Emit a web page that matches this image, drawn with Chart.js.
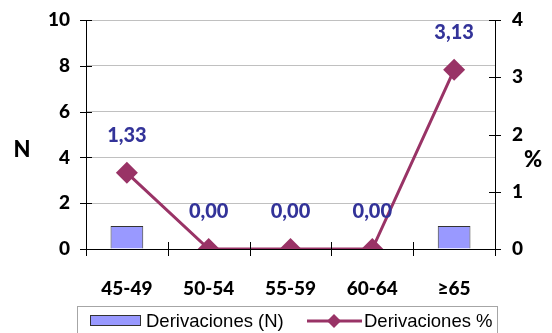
<!DOCTYPE html>
<html>
<head>
<meta charset="utf-8">
<script src="https://cdn.jsdelivr.net/npm/chart.js@4/dist/chart.umd.min.js"></script>
<style>
  html, body { margin: 0; padding: 0; background: #fff; }
  #wrap { width: 552px; height: 333px; }
</style>
</head>
<body>
<div id="wrap"><canvas id="chart" width="552" height="333"></canvas></div>
<script>
// datos
const grupos = ['45-49', '50-54', '55-59', '60-64', '≥65'];
const derivN = [1, 0, 0, 0, 1];
const derivPct = [1.33, 0, 0, 0, 3.13];
const ticksN = [0, 2, 4, 6, 8, 10];
const ticksPct = [0, 1, 2, 3, 4];

const colorLinea = '#993366';
const colorBarra = '#9999ff';
const colorEtiqueta = '#333399';
const fuenteEje = 'Lato, "Open Sans", sans-serif';

// marcas de eje que cruzan la linea, como en Excel
const marcasEje = {
  id: 'marcasEje',
  afterDraw(chart) {
    const ctx = chart.ctx;
    const a = chart.chartArea;
    ctx.save();
    ctx.strokeStyle = '#000';
    ctx.lineWidth = 1;
    ctx.beginPath();
    ['y', 'y1'].forEach(id => {
      const s = chart.scales[id];
      const x = id === 'y' ? a.left : a.right;
      s.ticks.forEach((t, i) => {
        const y = Math.round(s.getPixelForTick(i)) + 0.5;
        ctx.moveTo(x - 6, y); ctx.lineTo(x + 6, y);
      });
    });
    const n = grupos.length;
    for (let i = 0; i <= n; i++) {
      const x = Math.round(a.left + i * (a.right - a.left) / n) + 0.5;
      ctx.moveTo(x, a.bottom - 7); ctx.lineTo(x, a.bottom + 7);
    }
    ctx.stroke();

    // titulos de ejes
    ctx.fillStyle = '#000';
    ctx.font = '900 22px ' + fuenteEje;
    ctx.textAlign = 'center';
    ctx.textBaseline = 'middle';
    ctx.fillText('N', 22, 150);
    ctx.fillText('%', 533, 160);
    ctx.restore();
  }
};

// etiquetas de valor sobre la linea
const etiquetas = {
  id: 'etiquetas',
  afterDatasetsDraw(chart) {
    const ctx = chart.ctx;
    const meta = chart.getDatasetMeta(1);
    ctx.save();
    ctx.fillStyle = colorEtiqueta;
    ctx.font = '900 20px ' + fuenteEje;
    ctx.textAlign = 'center';
    ctx.textBaseline = 'middle';
    meta.data.forEach((p, i) => {
      ctx.fillText(derivPct[i].toFixed(2).replace('.', ','), p.x, p.y - 37);
    });
    ctx.restore();
  }
};

// leyenda con recuadro
const leyenda = {
  id: 'leyenda',
  afterDraw(chart) {
    const ctx = chart.ctx;
    ctx.save();
    ctx.strokeStyle = '#a6a6a6';
    ctx.lineWidth = 1;
    ctx.strokeRect(77.5, 306.5, 420, 40);
    ctx.fillStyle = colorBarra;
    ctx.fillRect(90.5, 315.5, 50, 10);
    ctx.strokeStyle = '#333';
    ctx.strokeRect(90.5, 315.5, 50, 10);
    ctx.strokeStyle = colorLinea;
    ctx.lineWidth = 3;
    ctx.beginPath();
    ctx.moveTo(307, 321); ctx.lineTo(362, 321);
    ctx.stroke();
    ctx.fillStyle = colorLinea;
    ctx.beginPath();
    ctx.moveTo(334, 314); ctx.lineTo(341, 321); ctx.lineTo(334, 328); ctx.lineTo(327, 321);
    ctx.closePath(); ctx.fill();
    ctx.fillStyle = '#000';
    ctx.font = '18.5px "Liberation Sans", Arial, sans-serif';
    ctx.textBaseline = 'middle';
    ctx.textAlign = 'left';
    ctx.fillText('Derivaciones (N)', 146, 322);
    ctx.fillText('Derivaciones %', 364, 322);
    ctx.restore();
  }
};

const fuenteTicks = { family: fuenteEje, weight: '900', size: 19 };
const sinRelleno = s => { s.paddingTop = 0; s.paddingBottom = 0; };

new Chart(document.getElementById('chart'), {
  data: {
    labels: grupos,
    datasets: [
      {
        type: 'bar',
        label: 'Derivaciones (N)',
        data: derivN,
        yAxisID: 'y',
        backgroundColor: colorBarra,
        borderColor: '#333',
        borderWidth: 1,
        barPercentage: 0.4,
        categoryPercentage: 1,
        order: 2
      },
      {
        type: 'line',
        label: 'Derivaciones %',
        data: derivPct,
        yAxisID: 'y1',
        borderColor: colorLinea,
        backgroundColor: colorLinea,
        borderWidth: 3,
        pointStyle: 'rectRot',
        pointRadius: 11,
        pointBorderWidth: 0,
        tension: 0,
        order: 1
      }
    ]
  },
  options: {
    responsive: false,
    animation: false,
    layout: { padding: { top: 20, left: 0, right: 0, bottom: 0 } },
    plugins: {
      legend: { display: false },
      tooltip: { enabled: false }
    },
    scales: {
      x: {
        grid: { drawOnChartArea: false, drawTicks: false },
        border: { color: '#000', width: 1 },
        ticks: { color: '#000', font: fuenteTicks, padding: 28 },
        afterFit: s => { s.height = 84; s.paddingLeft = 0; s.paddingRight = 0; }
      },
      y: {
        position: 'left',
        min: 0, max: 10,
        afterBuildTicks: s => { s.ticks = ticksN.map(v => ({ value: v })); },
        grid: { color: '#c0c0c0', drawTicks: false },
        border: { color: '#000', width: 1 },
        ticks: { color: '#000', font: fuenteTicks, padding: 16 },
        afterFit: s => { s.width = 86; sinRelleno(s); }
      },
      y1: {
        position: 'right',
        min: 0, max: 4,
        afterBuildTicks: s => { s.ticks = ticksPct.map(v => ({ value: v })); },
        grid: { drawOnChartArea: false, drawTicks: false },
        border: { color: '#000', width: 1 },
        ticks: { color: '#000', font: fuenteTicks, padding: 17 },
        afterFit: s => { s.width = 57; sinRelleno(s); }
      }
    }
  },
  plugins: [marcasEje, etiquetas, leyenda]
});
</script>
</body>
</html>
